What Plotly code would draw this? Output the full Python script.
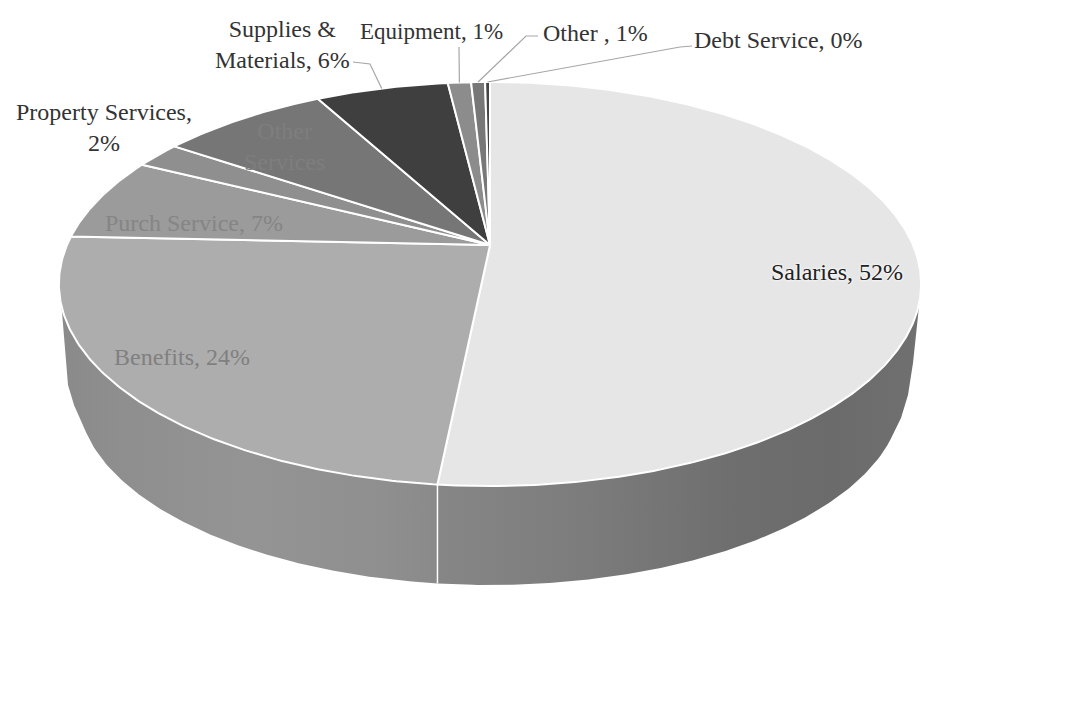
import numpy as np
import plotly.graph_objects as go

# Data (percent of budget, clockwise from 12 o'clock)
categories = ["Salaries", "Benefits", "Purch Service", "Property Services", "Other Services",
              "Supplies & Materials", "Equipment", "Other", "Debt Service"]
values = [51.6, 24.1, 6.7, 2.1, 7.6, 6.0, 1.05, 0.63, 0.22]
top_colors = ["#e6e6e6", "#adadad", "#9b9b9b", "#8f8f8f", "#767676", "#3f3f3f", "#8c8c8c", "#777777", "#454545"]
label_texts = ["Salaries, 52%", "Benefits, 24%", "Purch Service, 7%", "Property Services,<br>2%",
               "Other<br>Services", "Supplies &<br>Materials, 6%", "Equipment, 1%", "Other , 1%", "Debt Service, 0%"]
label_colors = ["#222222", "#808080", "#858585", "#333333", "#7e7e7e", "#333333", "#333333", "#333333", "#333333"]

# Pie geometry on a pixel-sized plot area
CX, CY, A, B, K = 490, 245, 423, 194.5, 0.193
LOW_CY, LOW_RX, LOW_RY = 395, 412, 190


def rim(theta_deg):
    t = np.radians(np.asarray(theta_deg, dtype=float))
    x, y = np.sin(t), np.cos(t)
    w = 1 + K * y
    return CX + A * x / w, CY - B * y / w


def low_y(px):
    return LOW_CY + LOW_RY * np.sqrt(1 - ((px - CX) / LOW_RX) ** 2)


cum = np.concatenate([[0], np.cumsum(values)])
cum = cum / cum[-1] * 360
seam_x, seam_y = rim(cum[1])
seam_x = float(seam_x)

fig = go.Figure()

# Side walls of the two front slices, with rounded silhouette corners
th = np.linspace(101.0, cum[1], 120)
xt, yt = rim(th)
right_side = [(918, 316), (913, 363), (908, 395), (901, 418)]
xl = np.linspace(CX + 0.98 * LOW_RX, seam_x, 140)
wall_right_x = np.concatenate([xt, xl[::-1], [p[0] for p in right_side[::-1]], xt[:1]])
wall_right_y = np.concatenate([yt, low_y(xl[::-1]), [p[1] for p in right_side[::-1]], yt[:1]])
fig.add_trace(go.Scatter(
    x=wall_right_x, y=wall_right_y, mode="lines", line=dict(width=0), fill="toself",
    fillgradient=dict(type="horizontal", colorscale=[
        [0, "#868686"], [0.3, "#7c7c7c"], [0.62, "#6e6e6e"], [0.82, "#6b6b6b"], [1, "#707070"]]),
    hoverinfo="skip", showlegend=False))

th = np.linspace(cum[1], 259.0, 120)
xt, yt = rim(th)
left_side = [(62, 312), (68, 385), (74, 405)]
xl = np.linspace(seam_x, CX - 0.98 * LOW_RX, 140)
wall_left_x = np.concatenate([xt, [p[0] for p in left_side], xl[::-1], xt[:1]])
wall_left_y = np.concatenate([yt, [p[1] for p in left_side], low_y(xl[::-1]), yt[:1]])
fig.add_trace(go.Scatter(
    x=wall_left_x, y=wall_left_y, mode="lines", line=dict(width=0), fill="toself",
    fillgradient=dict(type="horizontal", colorscale=[
        [0, "#8a8a8a"], [0.15, "#8e8e8e"], [0.5, "#949494"], [0.85, "#8f8f8f"], [1, "#8a8a8a"]]),
    hoverinfo="skip", showlegend=False))

# Seam between the two walls
fig.add_trace(go.Scatter(x=[seam_x, seam_x], y=[float(seam_y), float(low_y(seam_x))], mode="lines",
                         line=dict(color="white", width=1.5), hoverinfo="skip", showlegend=False))

# Top faces
for i, name in enumerate(categories):
    th = np.linspace(cum[i], cum[i + 1], max(int(cum[i + 1] - cum[i]) * 2, 4))
    xr, yr = rim(th)
    fig.add_trace(go.Scatter(
        x=np.concatenate([[CX], xr, [CX]]), y=np.concatenate([[CY], yr, [CY]]),
        mode="lines", line=dict(color="white", width=2), fill="toself", fillcolor=top_colors[i],
        name=name, hoverinfo="name", showlegend=False))

# Leader lines: label end -> elbow -> slice rim
leaders = {5: [(353, 62), (370, 64)], 6: [(459, 47)], 7: [(538, 36), (526, 36)], 8: [(692, 46), (680, 47)]}
for i, pts in leaders.items():
    mx, my = rim((cum[i] + cum[i + 1]) / 2)
    xs = [p[0] for p in pts] + [float(mx)]
    ys = [p[1] for p in pts] + [float(my)]
    fig.add_trace(go.Scatter(x=xs, y=ys, mode="lines", line=dict(color="#a6a6a6", width=1.2),
                             hoverinfo="skip", showlegend=False))

# Labels
label_pos = [(837, 272), (182, 357), (194, 223), (104, 127), (284, 146), (282, 44), (431, 31), (595, 33), (778, 40)]
for (x, y), txt, col, name in zip(label_pos, label_texts, label_colors, categories):
    shadow = "0 0 3px white, 0 0 3px white" if name == "Salaries" else "none"
    fig.add_annotation(x=x, y=y, text=txt, showarrow=False, xanchor="center", yanchor="middle",
                       font=dict(family="Liberation Serif", size=23 if name == "Equipment" else 24,
                                 color=col, shadow=shadow), align="center")

fig.update_layout(
    width=1070, height=705, margin=dict(l=0, r=0, t=0, b=0),
    paper_bgcolor="white", plot_bgcolor="white", showlegend=False,
    xaxis=dict(range=[0, 1070], visible=False, fixedrange=True),
    yaxis=dict(range=[705, 0], visible=False, fixedrange=True),
)
fig.write_html("out.html", config={"displayModeBar": False}, post_script="document.body.style.margin='0';")
